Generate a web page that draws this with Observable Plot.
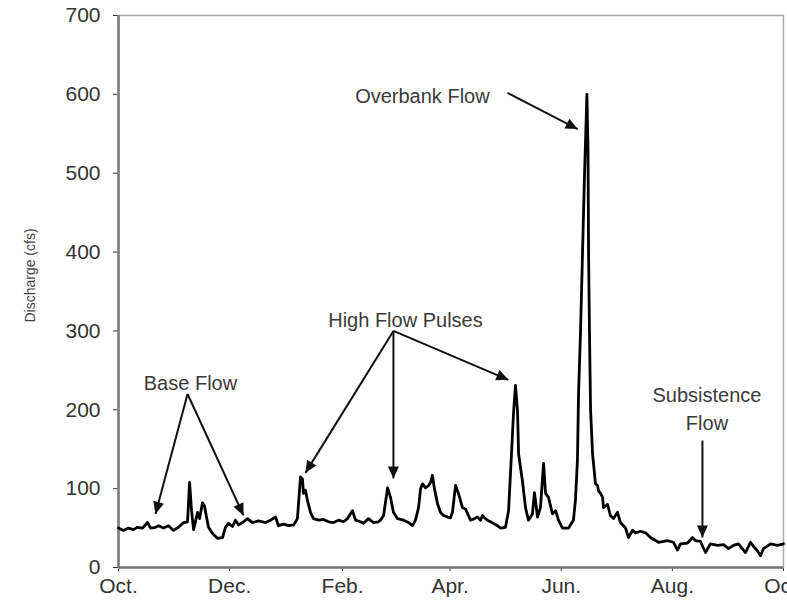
<!DOCTYPE html>
<html>
<head>
<meta charset="utf-8">
<script src="https://cdn.jsdelivr.net/npm/d3@7"></script>
<script src="https://cdn.jsdelivr.net/npm/@observablehq/plot@0.6"></script>
<style>
  html, body { margin: 0; padding: 0; background: #fff; overflow: hidden; }
</style>
</head>
<body>
<div id="chart"></div>
<script>
// Days since the start of the water year (Oct 1) and daily discharge (cfs)
const dayOffsets = [
  0, 2.7, 5.5, 8.2, 10.4, 13.2, 15.9, 17.6, 20.3, 22.0, 24.7, 27.4, 30.2, 32.9, 35.7, 37.9,
  39.0, 40.1, 41.2, 43.4, 44.5, 46.1, 47.2, 48.3, 49.4, 51.6, 54.3, 57.1, 58.7, 60.4, 62.6,
  64.2, 65.9, 68.1, 70.8, 73.5, 76.8, 80.7, 83.4, 86.2, 87.8, 90.6, 93.3, 96.1, 98.2, 99.9,
  101.0, 101.5, 102.6, 103.7, 105.4, 107.0, 109.8, 112.5, 115.3, 118.0, 120.8, 123.5, 125.7,
  128.4, 130.1, 132.8, 134.5, 137.2, 140.0, 142.7, 143.8, 145.5, 147.7, 149.3, 150.9, 153.1,
  156.4, 159.2, 161.4, 163.0, 164.7, 165.8, 166.9, 168.5, 170.2, 171.3, 172.3, 173.4, 175.1,
  176.7, 178.4, 180.6, 182.2, 183.3, 185.0, 186.6, 188.8, 190.5, 193.2, 195.4, 197.0, 198.7,
  199.8, 201.4, 202.5, 204.2, 205.8, 208.0, 209.7, 212.4, 214.1, 215.7, 216.8, 217.9, 219.0,
  219.6, 221.7, 223.4, 225.0, 227.2, 228.3, 230.0, 231.6, 233.3, 234.4, 236.0, 238.2, 239.9,
  241.5, 243.7, 247.0, 249.7, 250.8, 251.9, 252.5, 253.6, 254.7, 255.8, 256.6, 257.1, 257.7,
  258.0, 258.5, 259.1, 260.2, 261.8, 262.9, 263.5, 264.6, 265.7, 266.2, 268.4, 270.0, 271.7,
  273.9, 275.5, 278.3, 279.9, 282.1, 283.8, 286.5, 289.3, 292.0, 296.4, 301.3, 304.6, 306.8,
  308.5, 312.3, 315.1, 316.7, 319.4, 322.2, 324.9, 328.8, 332.1, 334.8, 337.5, 340.3, 344.1,
  346.9, 348.5, 350.4, 352.4, 354.0, 357.9, 361.7, 365.0
];
const discharge = [
  50, 47, 50, 48, 51, 50, 57, 50, 51, 53, 50, 53, 47, 51, 57, 58,
  108, 72, 48, 70, 62, 82, 78, 64, 51, 43, 37, 38, 51, 56, 52,
  60, 54, 57, 62, 57, 59, 57, 60, 64, 53, 55, 53, 54, 62, 115,
  112, 94, 98, 85, 70, 62, 60, 61, 58, 57, 60, 58, 62,
  72, 60, 58, 56, 62, 57, 58, 60, 66, 101, 89, 70, 62,
  60, 57, 53, 60, 76, 100, 106, 101, 104, 108, 117, 100, 81,
  70, 66, 64, 63, 70, 104, 94, 76, 74, 60, 62, 64, 60,
  66, 62, 60, 58, 56, 53, 50, 51, 72, 144, 195, 231, 199,
  144, 110, 76, 60, 68, 95, 64, 76, 132, 94, 89, 68, 72,
  60, 50, 50, 60, 85, 136, 220, 300, 400, 500, 560, 600, 530,
  400, 300, 200, 144, 106, 104, 97, 94, 89, 76, 80, 66, 62,
  70, 57, 50, 38, 47, 44, 46, 44, 38, 32, 34, 32, 22,
  30, 31, 38, 34, 33, 19, 30, 28, 29, 24, 28, 30, 19,
  32, 27, 22, 15, 24, 30, 28, 30
];

// Axis ticks
const monthTickDates = ["2001-10-01", "2001-12-01", "2002-02-01", "2002-04-01", "2002-06-01", "2002-08-01", "2002-10-01"];
const monthTickLabels = ["Oct.", "Dec.", "Feb.", "Apr.", "Jun.", "Aug.", "Oct."];
const yTicks = [0, 100, 200, 300, 400, 500, 600, 700];

// Annotations (day offset, discharge)
const annotationText = ["Base Flow", "High Flow Pulses", "Overbank Flow", "Subsistence\nFlow"];
const annotationDay = [39.5, 157.5, 166.8, 323];
const annotationValue = [237, 316, 600, 204];

const arrowFromDay = [37.9, 37.9, 150.9, 150.9, 150.9, 213.5, 320.5];
const arrowFromValue = [220, 220, 300, 300, 300, 602, 161];
const arrowToDay = [20.3, 68.6, 102.6, 150.9, 214.0, 252.0, 320.5];
const arrowToValue = [68, 66, 120, 113, 238, 556, 38];

const start = Date.UTC(2001, 9, 1);
const toDate = d => new Date(start + d * 864e5);
const tickDates = monthTickDates.map(s => new Date(s));
const labelByTime = new Map(tickDates.map((d, i) => [+d, monthTickLabels[i]]));

const series = dayOffsets.map((d, i) => ({date: toDate(d), q: discharge[i]}));
const arrows = arrowFromDay.map((d, i) => ({
  x1: toDate(d), y1: arrowFromValue[i], x2: toDate(arrowToDay[i]), y2: arrowToValue[i]
}));
const notes = annotationText.map((t, i) => ({date: toDate(annotationDay[i]), q: annotationValue[i], text: t}));

const chart = Plot.plot({
  width: 787,
  height: 601,
  marginLeft: 118,
  marginRight: 4,
  marginTop: 15,
  marginBottom: 34,
  style: {
    fontFamily: "'Liberation Sans', Arial, sans-serif",
    fontSize: "21px",
    color: "#333",
    background: "white",
    overflow: "visible"
  },
  x: {
    type: "utc",
    domain: [tickDates[0], tickDates[tickDates.length - 1]],
    ticks: tickDates,
    tickFormat: d => labelByTime.get(+d),
    tickSize: 4,
    tickPadding: 7,
    label: null
  },
  y: {
    domain: [0, 700],
    ticks: yTicks,
    tickSize: 5,
    tickPadding: 13,
    label: null
  },
  marks: [
    Plot.frame({stroke: "#aaa", strokeWidth: 1.5}),
    Plot.ruleY([0], {stroke: "#777", strokeWidth: 2.5}),
    Plot.ruleX([tickDates[0]], {stroke: "#777", strokeWidth: 2.5}),
    Plot.line(series, {x: "date", y: "q", stroke: "#000", strokeWidth: 2.8}),
    Plot.link(arrows, {x1: "x1", y1: "y1", x2: "x2", y2: "y2", stroke: "#111", strokeWidth: 2}),
    Plot.text(notes, {x: "date", y: "q", text: "text", fontSize: 20, fill: "#3a3a3a", lineHeight: 1.4}),
    Plot.text(["Discharge (cfs)"], {frameAnchor: "left", textAnchor: "middle", dx: -88, dy: -16, rotate: -90, fontSize: 14, fill: "#444"})
  ]
});

// Filled arrowheads on the annotation links
const svg = d3.select(chart);
svg.append("defs").append("marker")
  .attr("id", "filledArrow")
  .attr("viewBox", "-13 -6 14 12")
  .attr("refX", 0).attr("refY", 0)
  .attr("markerWidth", 14).attr("markerHeight", 12)
  .attr("markerUnits", "userSpaceOnUse")
  .attr("orient", "auto")
  .append("path")
  .attr("d", "M0,0L-12,-5.5L-12,5.5Z")
  .attr("fill", "#111");
svg.selectAll('g[aria-label="link"] path').attr("marker-end", "url(#filledArrow)");

document.getElementById("chart").appendChild(chart);
</script>
</body>
</html>
